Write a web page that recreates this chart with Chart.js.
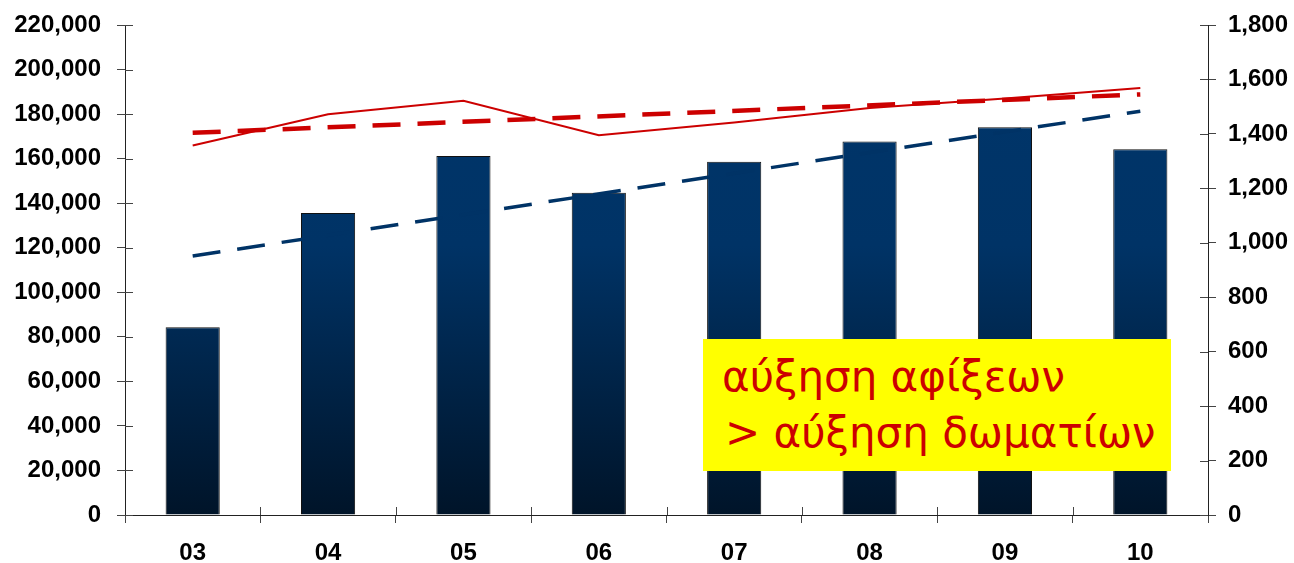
<!DOCTYPE html>
<html>
<head>
<meta charset="utf-8">
<script src="https://cdn.jsdelivr.net/npm/chart.js@4/dist/chart.umd.min.js"></script>
<style>
    body { margin: 0; background: #fff; }
    #wrap { position: relative; width: 1294px; height: 563px; }
    #note {
        position: absolute; left: 703px; top: 339px; width: 468px; height: 132px;
        background: #ffff00;
    }
    .line {
        position: absolute; left: 19px; white-space: nowrap;
        font-family: 'DejaVu Sans', sans-serif; font-size: 42px; line-height: 56px;
        color: #cc0000;
    }
</style>
</head>
<body>
<div id="wrap">
    <canvas id="chart" width="1294" height="563"></canvas>
    <div id="note">
        <div class="line" style="top: 10px;">αύξηση αφίξεων</div>
        <div class="line" style="top: 66px; left: 22px;">&gt; αύξηση δωματίων</div>
    </div>
</div>
<script>
// έτη
const years = ['03', '04', '05', '06', '07', '08', '09', '10'];
// μπάρες (αριστερός άξονας)
const arrivals = [84300, 135600, 161200, 144700, 158600, 167700, 174100, 164200];
// κόκκινη γραμμή (δεξιός άξονας)
const rooms = [1357, 1472, 1522, 1395, 1442, 1495, 1530, 1569];
// γραμμές τάσης, μόνο τα άκρα
const arrivalsTrend = [116300, null, null, null, null, null, null, 181300];
const roomsTrend = [1404, null, null, null, null, null, null, 1545];

const leftTicks = { min: 0, max: 220000, step: 20000 };
const rightTicks = { min: 0, max: 1800, step: 200 };

const tickFont = { family: "'Liberation Sans', Arial, sans-serif", size: 24, weight: 'bold' };

function barGradient(context) {
    const area = context.chart.chartArea;
    if (!area) return '#003366';
    const g = context.chart.ctx.createLinearGradient(0, area.top, 0, area.bottom);
    g.addColorStop(0, '#00366b');
    g.addColorStop(0.45, '#003366');
    g.addColorStop(1, '#001429');
    return g;
}

// εσωτερικά σημάδια των αξόνων
const innerTicks = {
    id: 'innerTicks',
    afterDraw(chart) {
        const ctx = chart.ctx;
        const area = chart.chartArea;
        const len = 8;
        ctx.save();
        ctx.strokeStyle = '#444';
        ctx.lineWidth = 1;
        ctx.beginPath();
        const yl = chart.scales.y;
        yl.ticks.forEach((t, i) => {
            const py = Math.round(yl.getPixelForTick(i)) + 0.5;
            ctx.moveTo(area.left, py);
            ctx.lineTo(area.left + len, py);
        });
        const yr = chart.scales.y2;
        yr.ticks.forEach((t, i) => {
            const py = Math.round(yr.getPixelForTick(i)) + 0.5;
            ctx.moveTo(area.right, py);
            ctx.lineTo(area.right - len, py);
        });
        const xs = chart.scales.x;
        for (let i = 1; i < years.length; i++) {
            const px = Math.round((xs.getPixelForValue(i - 1) + xs.getPixelForValue(i)) / 2) + 0.5;
            ctx.moveTo(px, area.bottom);
            ctx.lineTo(px, area.bottom - len);
        }
        ctx.stroke();
        ctx.restore();
    }
};

function fixY(width) {
    return s => {
        s.width = width;
        s.paddingTop = 0;
        s.paddingBottom = 0;
    };
}

const ctx = document.getElementById('chart').getContext('2d');
new Chart(ctx, {
    type: 'bar',
    data: {
        labels: years,
        datasets: [
            {
                type: 'line',
                data: roomsTrend,
                yAxisID: 'y2',
                borderColor: '#cc0000',
                borderWidth: 4.5,
                borderDash: [28, 17],
                borderCapStyle: 'butt',
                pointRadius: 0,
                spanGaps: true,
                order: 0
            },
            {
                type: 'line',
                data: rooms,
                yAxisID: 'y2',
                borderColor: '#cc0000',
                borderWidth: 2,
                pointRadius: 0,
                tension: 0,
                order: 1
            },
            {
                type: 'line',
                data: arrivalsTrend,
                yAxisID: 'y',
                borderColor: '#003366',
                borderWidth: 3.5,
                borderDash: [28, 17],
                borderCapStyle: 'butt',
                pointRadius: 0,
                spanGaps: true,
                order: 2
            },
            {
                data: arrivals,
                yAxisID: 'y',
                backgroundColor: barGradient,
                borderColor: '#111',
                borderWidth: 1,
                barPercentage: 0.4,
                categoryPercentage: 1,
                order: 3
            }
        ]
    },
    options: {
        responsive: false,
        animation: false,
        devicePixelRatio: 1,
        layout: { padding: { top: 25, left: 0, right: 0, bottom: 0 } },
        plugins: { legend: { display: false }, tooltip: { enabled: false } },
        scales: {
            x: {
                afterFit: s => { s.height = 48; s.paddingLeft = 0; s.paddingRight = 0; },
                border: { display: true, color: '#222', width: 1 },
                grid: { drawOnChartArea: false, drawTicks: true, tickLength: 8, color: '#444', offset: true },
                ticks: { color: '#000', font: tickFont, padding: 16 }
            },
            y: {
                position: 'left',
                min: leftTicks.min,
                max: leftTicks.max,
                afterFit: fixY(125),
                border: { display: true, color: '#222', width: 1 },
                grid: { drawOnChartArea: false, drawTicks: true, tickLength: 8, color: '#444' },
                ticks: {
                    stepSize: leftTicks.step,
                    color: '#000',
                    font: tickFont,
                    padding: 16,
                    callback: v => v.toLocaleString('en-US')
                }
            },
            y2: {
                position: 'right',
                min: rightTicks.min,
                max: rightTicks.max,
                afterFit: fixY(86),
                border: { display: true, color: '#222', width: 1 },
                grid: { drawOnChartArea: false, drawTicks: true, tickLength: 8, color: '#444' },
                ticks: {
                    stepSize: rightTicks.step,
                    color: '#000',
                    font: tickFont,
                    padding: 12,
                    callback: v => v.toLocaleString('en-US')
                }
            }
        }
    },
    plugins: [innerTicks]
});
</script>
</body>
</html>
